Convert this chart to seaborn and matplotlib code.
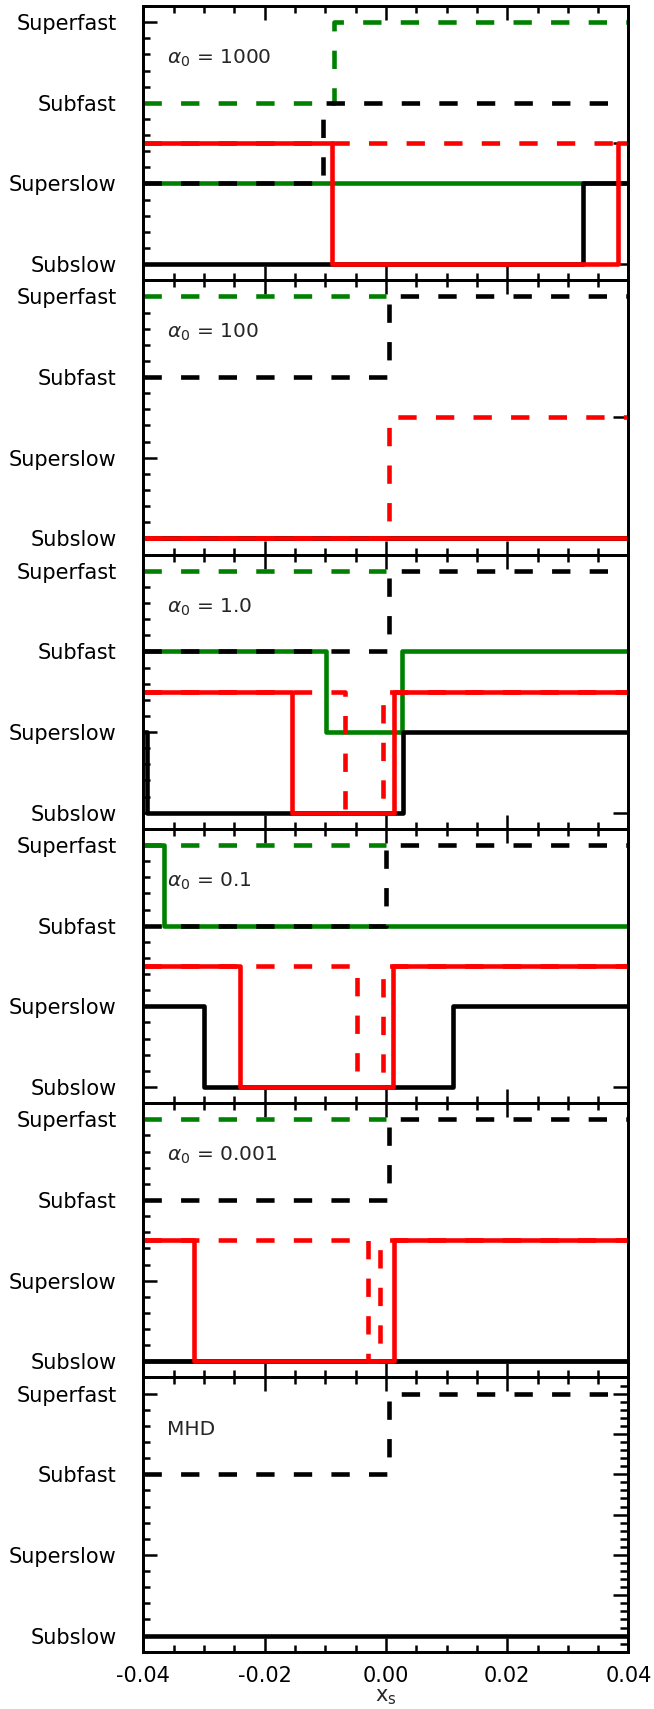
import numpy as np
import pandas as pd
import seaborn as sns
import matplotlib.pyplot as plt
from matplotlib.ticker import MultipleLocator, FormatStrFormatter

# regime levels on the left axis
levels = ['Subslow', 'Superslow', 'Subfast', 'Superfast']
panel_labels = [r'$\alpha_0$ = 1000', r'$\alpha_0$ = 100', r'$\alpha_0$ = 1.0',
                r'$\alpha_0$ = 0.1', r'$\alpha_0$ = 0.001', 'MHD']

# step data: breakpoints (x_s) and level index; red curves are 0/1 on a twin axis
a1000_green_solid = ([-0.04, 0.04], [1, 1])
a1000_green_dash = ([-0.04, -0.0085, 0.04], [2, 3, 3])
a1000_black_solid = ([-0.04, 0.0325, 0.04], [0, 1, 1])
a1000_black_dash = ([-0.04, -0.0104, 0.04], [1, 2, 2])
a1000_red_solid = ([-0.04, -0.0089, 0.0383, 0.04], [1, 0, 1, 1])
a1000_red_dash = ([-0.04, 0.04], [1, 1])

a100_green_solid = ([-0.04, 0.04], [0, 0])
a100_green_dash = ([-0.04, 0.0], [3, 3])
a100_black_solid = ([-0.04, 0.04], [0, 0])
a100_black_dash = ([-0.04, 0.0006, 0.04], [2, 3, 3])
a100_red_solid = ([-0.04, 0.04], [0, 0])
a100_red_dash = ([-0.04, 0.0006, 0.04], [0, 1, 1])

a1_green_solid = ([-0.04, -0.0099, 0.0026, 0.04], [2, 1, 2, 2])
a1_green_dash = ([-0.04, 0.0], [3, 3])
a1_black_solid = ([-0.04, -0.0394, 0.0028, 0.04], [1, 0, 1, 1])
a1_black_dash = ([-0.04, 0.0006, 0.04], [2, 3, 3])
a1_red_solid = ([-0.04, -0.0154, 0.0014, 0.04], [1, 0, 1, 1])
a1_red_dash = ([-0.04, -0.0068, -0.0004, 0.04], [1, 0, 1, 1])

a01_green_solid = ([-0.04, -0.0366, 0.04], [3, 2, 2])
a01_green_dash = ([-0.04, 0.0], [3, 3])
a01_black_solid = ([-0.04, -0.0299, 0.0111, 0.04], [1, 0, 1, 1])
a01_black_dash = ([-0.04, 0.0001, 0.04], [2, 3, 3])
a01_red_solid = ([-0.04, -0.0240, 0.0011, 0.04], [1, 0, 1, 1])
a01_red_dash = ([-0.04, -0.0047, -0.0004, 0.04], [1, 0, 1, 1])

a0001_green_solid = ([-0.04, 0.04], [0, 0])
a0001_green_dash = ([-0.04, 0.0], [3, 3])
a0001_black_solid = ([-0.04, 0.04], [0, 0])
a0001_black_dash = ([-0.04, 0.0006, 0.04], [2, 3, 3])
a0001_red_solid = ([-0.04, -0.0316, 0.0014, 0.04], [1, 0, 1, 1])
a0001_red_dash = ([-0.04, -0.0029, -0.0010, 0.04], [1, 0, 1, 1])

mhd_black_solid = ([-0.04, 0.04], [0, 0])
mhd_black_dash = ([-0.04, 0.0006, 0.04], [2, 3, 3])

panels = [
    dict(green=[a1000_green_solid, a1000_green_dash], black=[a1000_black_solid, a1000_black_dash],
         red=[a1000_red_solid, a1000_red_dash]),
    dict(green=[a100_green_solid, a100_green_dash], black=[a100_black_solid, a100_black_dash],
         red=[a100_red_solid, a100_red_dash]),
    dict(green=[a1_green_solid, a1_green_dash], black=[a1_black_solid, a1_black_dash],
         red=[a1_red_solid, a1_red_dash]),
    dict(green=[a01_green_solid, a01_green_dash], black=[a01_black_solid, a01_black_dash],
         red=[a01_red_solid, a01_red_dash]),
    dict(green=[a0001_green_solid, a0001_green_dash], black=[a0001_black_solid, a0001_black_dash],
         red=[a0001_red_solid, a0001_red_dash]),
    dict(green=[], black=[mhd_black_solid, mhd_black_dash], red=None),
]

sns.set_style("ticks")
plt.rcParams['font.family'] = ['DejaVu Sans']

LW = 3.3
DASH = (0, (4.0, 4.2))


def draw(ax, series, color, dashed):
    x, y = series
    df = pd.DataFrame({'x': x, 'y': y})
    sns.lineplot(data=df, x='x', y='y', ax=ax, color=color, lw=LW,
                 drawstyle='steps-post', estimator=None, sort=False,
                 linestyle=DASH if dashed else '-', solid_capstyle='butt')
    ax.set_xlabel('')
    ax.set_ylabel('')


fig, axes = plt.subplots(6, 1, figsize=(6.54, 17.09), dpi=100, sharex=True)
fig.subplots_adjust(left=0.219, right=0.961, top=0.9965, bottom=0.0335, hspace=0)

ylo, yhi = -0.2, 3.2
for i, (ax, p) in enumerate(zip(axes, panels)):
    for s, ser in enumerate(p['green']):
        draw(ax, ser, 'green', dashed=(s == 1))
    for s, ser in enumerate(p['black']):
        draw(ax, ser, 'black', dashed=(s == 1))

    ax.set_xlim(-0.04, 0.04)
    ax.set_ylim(ylo, yhi)
    ax.set_yticks(range(len(levels)))
    ax.set_yticklabels(levels)
    ax.yaxis.set_minor_locator(MultipleLocator(0.2))
    ax.xaxis.set_major_locator(MultipleLocator(0.02))
    ax.xaxis.set_minor_locator(MultipleLocator(0.005))
    ax.xaxis.set_major_formatter(FormatStrFormatter('%.2f'))
    ax.tick_params(axis='both', which='both', direction='in', colors='black',
                   width=1.8, top=True, bottom=True, left=True, right=False)
    ax.tick_params(axis='both', which='major', length=10, labelsize=15)
    ax.tick_params(axis='both', which='minor', length=5)
    ax.tick_params(axis='y', which='major', pad=19)
    ax.tick_params(axis='x', which='major', pad=10)
    for sp in ax.spines.values():
        sp.set_linewidth(2)
        sp.set_color('black')
    ax.text(-0.0361, 2.55, panel_labels[i], fontsize=14.5, ha='left', va='center')

    tw = ax.twinx()
    if p['red'] is not None:
        for s, ser in enumerate(p['red']):
            draw(tw, ser, 'red', dashed=(s == 1))
        # red 0/1 axis: 1 sits halfway between Superslow and Subfast
        tw.set_ylim(ylo / 1.5, yhi / 1.5)
        tw.set_yticks([0, 1])
        tw.tick_params(axis='y', which='major', length=11)
    else:
        tw.set_ylim(ylo, yhi)
        tw.yaxis.set_major_locator(MultipleLocator(0.5))
        tw.yaxis.set_minor_locator(MultipleLocator(0.1))
        tw.tick_params(axis='y', which='major', length=11)
        tw.tick_params(axis='y', which='minor', length=6)
    tw.tick_params(axis='y', which='both', direction='in', width=1.8,
                   labelright=False, colors='black')
    for sp in tw.spines.values():
        sp.set_linewidth(2)
        sp.set_color('black')

    if i < len(panels) - 1:
        ax.tick_params(axis='x', labelbottom=False)

axes[-1].set_xlabel(r'$\mathrm{x_s}$', fontsize=15, labelpad=1)

fig.savefig('out.png', dpi=100)
